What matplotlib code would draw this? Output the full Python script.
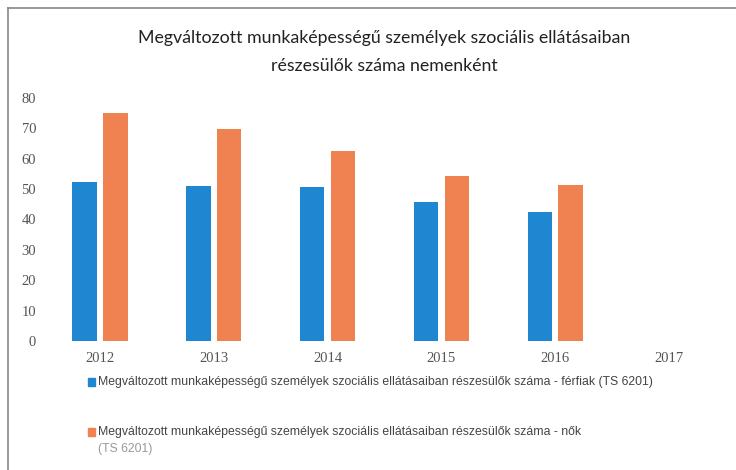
import matplotlib.pyplot as plt
import numpy as np
from matplotlib.lines import Line2D
from matplotlib.patches import Rectangle

# ── Datos ────────────────────────────────────────────────────────────────────
years = ['2012', '2013', '2014', '2015', '2016', '2017']
ferfiak = [52.5, 51.1, 50.8, 45.6, 42.5, np.nan]
nok = [75.0, 69.8, 62.7, 54.3, 51.2, np.nan]

title = ('Megváltozott munkaképességű személyek szociális ellátásaiban\n'
         'részesülők száma nemenként')
label_ferfi = ('Megváltozott munkaképességű személyek szociális ellátásaiban '
               'részesülők száma - férfiak (TS 6201)')
label_no = ('Megváltozott munkaképességű személyek szociális ellátásaiban '
            'részesülők száma - nők')
label_no_2 = '(TS 6201)'

blue = '#1F87D1'
orange = '#EF8250'

fig = plt.figure(figsize=(7.36, 4.70), dpi=100)
ax = fig.add_axes([43 / 736, 1 - 341 / 470, (726 - 43) / 736, (341 - 98) / 470])

x = np.arange(len(years))
w = 0.215
ax.bar(x - 0.135, ferfiak, w, color=blue)
ax.bar(x + 0.135, nok, w, color=orange)

ax.set_xlim(-0.5, len(years) - 0.5)
ax.set_ylim(0, 80)
ax.set_yticks(range(0, 81, 10))
ax.set_xticks(x)
ax.set_xticklabels(years)
for s in ax.spines.values():
    s.set_visible(False)
ax.tick_params(length=0, colors='#555555', labelsize=10.5)
ax.tick_params(axis='y', pad=5)
ax.tick_params(axis='x', pad=8)
for t in ax.get_xticklabels() + ax.get_yticklabels():
    t.set_fontfamily('Liberation Serif')

fig.text(0.522, 1 - 52 / 470, title, ha='center', va='center',
         fontsize=12.8, color='#222222', family='Lato', linespacing=1.85)

# ── Leyenda manual (la segunda entrada ocupa dos líneas) ─────────────────────
def fy(py):
    return 1 - py / 470


for py, color, text in [(382, blue, label_ferfi), (432, orange, label_no)]:
    fig.add_artist(Rectangle((88 / 736, fy(py + 4)), 7 / 736, 8 / 470,
                             color=color, transform=fig.transFigure))
    fig.text(98 / 736, fy(py), text, ha='left', va='center', fontsize=8.8,
             color='#444444', family='Liberation Sans')
fig.text(98 / 736, fy(449), label_no_2, ha='left', va='center', fontsize=8.8,
         color='#999999', family='Liberation Sans')

# marco gris del gráfico escaneado
fig.add_artist(Line2D([8 / 736, 1], [fy(8), fy(8)],
                      color='#888888', lw=1.2, transform=fig.transFigure))
fig.add_artist(Line2D([8 / 736, 8 / 736], [0, fy(8)],
                      color='#888888', lw=1.2, transform=fig.transFigure))

fig.savefig('out.png', dpi=100)
